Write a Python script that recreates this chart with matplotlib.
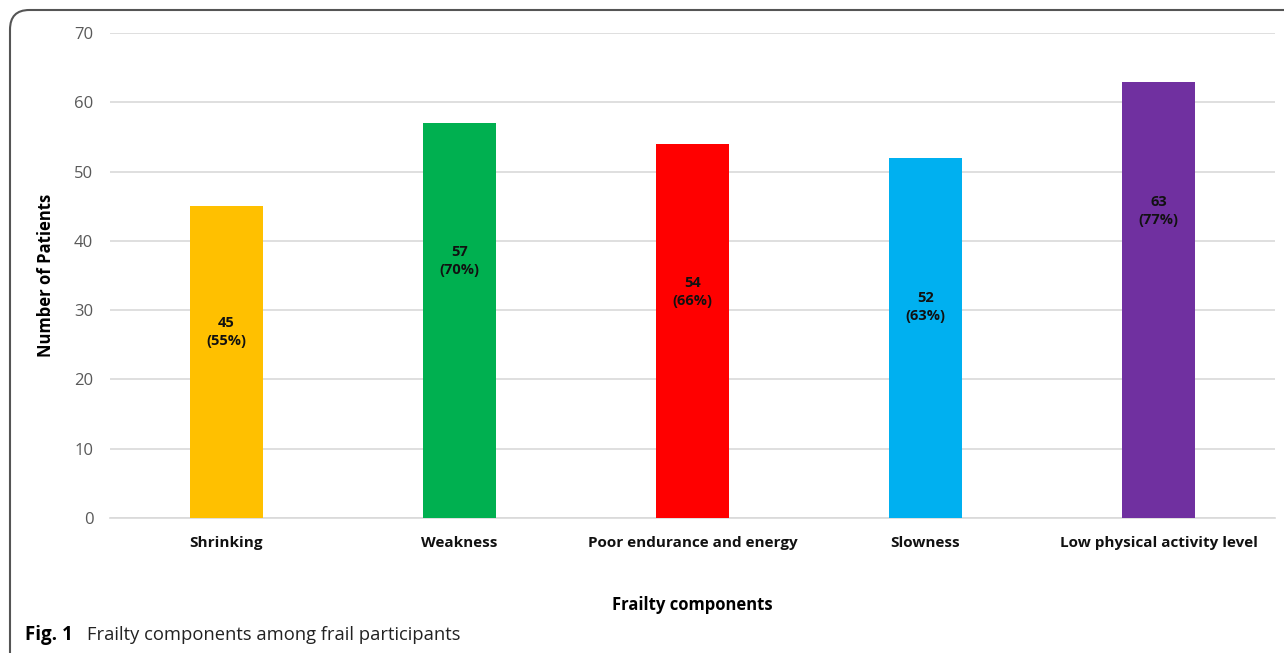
import matplotlib.pyplot as plt
from matplotlib.patches import FancyBboxPatch

# data
components = ['Shrinking', 'Weakness', 'Poor endurance and energy', 'Slowness', 'Low physical activity level']
patients = [45, 57, 54, 52, 63]
percent = [55, 70, 66, 63, 77]
label_y = [26.8, 37.1, 32.6, 30.4, 44.3]
colors = ['#FFC000', '#00B050', '#FF0000', '#00B0F0', '#7030A0']

plt.rcParams['font.family'] = ['Open Sans', 'DejaVu Sans']

fig = plt.figure(figsize=(12.84, 6.53), dpi=100)
ax = fig.add_axes([110 / 1284, 1 - 518 / 653, 1165 / 1284, 485 / 653])

x = range(len(components))
ax.bar(x, patients, width=0.31, color=colors, zorder=3)

for i in x:
    ax.text(i, label_y[i], f'{patients[i]}\n({percent[i]}%)', ha='center', va='center',
            fontsize=10.5, fontweight='bold', color='#111111', linespacing=1.35, zorder=4)

ax.set_xlim(-0.5, len(components) - 0.5)
ax.set_ylim(0, 70)
ax.set_yticks(range(0, 71, 10))
ax.yaxis.grid(True, color='#D9D9D9', linewidth=1.2, zorder=0)
ax.set_xticks(list(x))
ax.set_xticklabels(components, fontsize=11, fontweight='bold', color='#111111')
ax.tick_params(axis='x', length=0, pad=13)
ax.tick_params(axis='y', length=0, pad=12, labelsize=12, labelcolor='#595959')
for s in ['top', 'right', 'left']:
    ax.spines[s].set_visible(False)
ax.spines['bottom'].set_color('#D9D9D9')
ax.spines['bottom'].set_linewidth(1.2)

ax.set_ylabel('Number of Patients', fontsize=12, fontweight='bold', labelpad=14)
fig.text(692 / 1284, 1 - 605 / 653, 'Frailty components', ha='center', va='center',
         fontsize=12, fontweight='bold')

# caption
fig.text(25 / 1284, 1 - 635 / 653, 'Fig. 1', ha='left', va='center', fontsize=13.5, fontweight='bold')
fig.text(87 / 1284, 1 - 635 / 653, 'Frailty components among frail participants', ha='left',
         va='center', fontsize=13.2, color='#222222')

# rounded frame (cut off at right and bottom)
box = FancyBboxPatch((10 / 1284, -0.1), 1.2, 1 - 10 / 653 + 0.1,
                     boxstyle='round,pad=0,rounding_size=0.015', transform=fig.transFigure,
                     facecolor='none', edgecolor='#555555', linewidth=1.5, mutation_aspect=2)
fig.patches.append(box)

fig.savefig('out.png', dpi=100)
